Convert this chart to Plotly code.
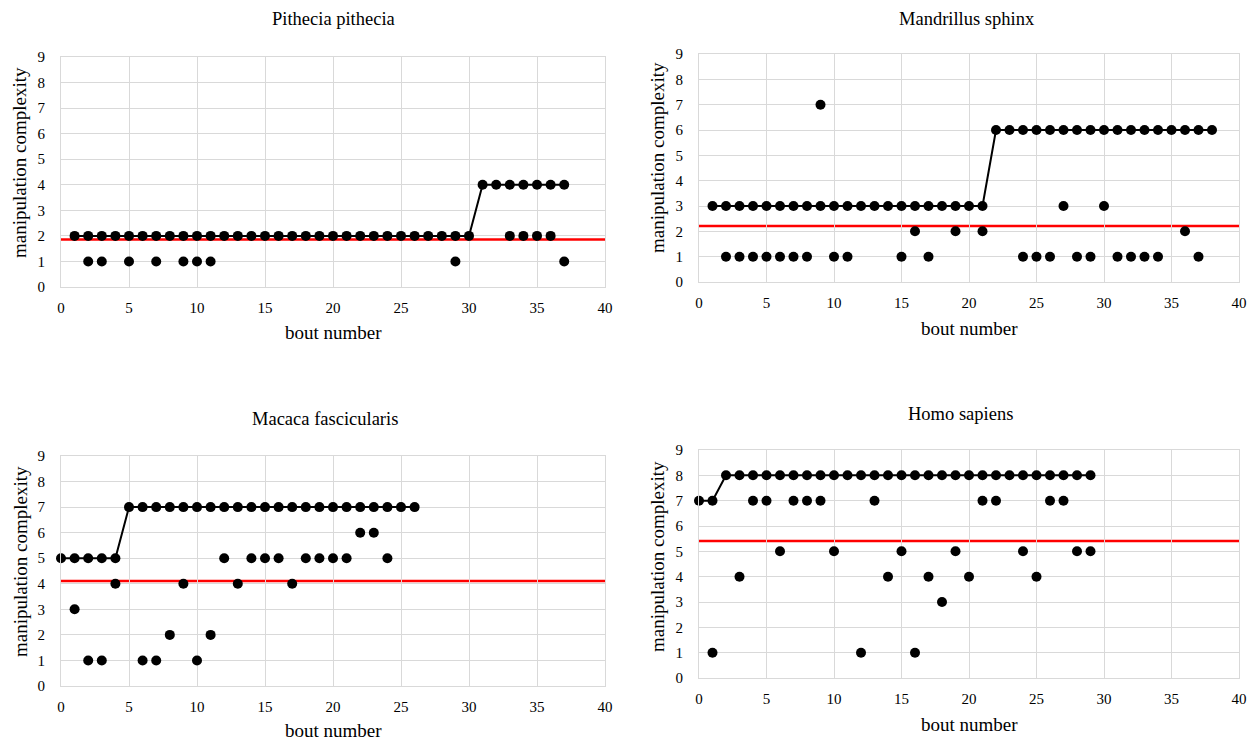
import plotly.graph_objects as go

# ---------------- data ----------------
titles = ["Pithecia pithecia", "Mandrillus sphinx", "Macaca fascicularis", "Homo sapiens"]

# Panel 1: Pithecia pithecia
p1_line_x = [1, 2, 3, 4, 5, 6, 7, 8, 9, 10, 11, 12, 13, 14, 15, 16, 17, 18, 19, 20,
             21, 22, 23, 24, 25, 26, 27, 28, 29, 30, 31, 32, 33, 34, 35, 36, 37]
p1_line_y = [2, 2, 2, 2, 2, 2, 2, 2, 2, 2, 2, 2, 2, 2, 2, 2, 2, 2, 2, 2,
             2, 2, 2, 2, 2, 2, 2, 2, 2, 2, 4, 4, 4, 4, 4, 4, 4]
p1_pts_x = [2, 3, 5, 7, 9, 10, 11, 29, 37, 33, 34, 35, 36]
p1_pts_y = [1, 1, 1, 1, 1, 1, 1, 1, 1, 2, 2, 2, 2]
p1_mean = 1.86

# Panel 2: Mandrillus sphinx
p2_line_x = [1, 2, 3, 4, 5, 6, 7, 8, 9, 10, 11, 12, 13, 14, 15, 16, 17, 18, 19, 20,
             21, 22, 23, 24, 25, 26, 27, 28, 29, 30, 31, 32, 33, 34, 35, 36, 37, 38]
p2_line_y = [3, 3, 3, 3, 3, 3, 3, 3, 3, 3, 3, 3, 3, 3, 3, 3, 3, 3, 3, 3,
             3, 6, 6, 6, 6, 6, 6, 6, 6, 6, 6, 6, 6, 6, 6, 6, 6, 6]
p2_pts_x = [9, 27, 30, 16, 19, 21, 36,
            2, 3, 4, 5, 6, 7, 8, 10, 11, 15, 17, 24, 25, 26, 28, 29, 31, 32, 33, 34, 37]
p2_pts_y = [7, 3, 3, 2, 2, 2, 2,
            1, 1, 1, 1, 1, 1, 1, 1, 1, 1, 1, 1, 1, 1, 1, 1, 1, 1, 1, 1, 1]
p2_mean = 2.21

# Panel 3: Macaca fascicularis
p3_line_x = [0, 1, 2, 3, 4, 5, 6, 7, 8, 9, 10, 11, 12, 13, 14, 15, 16, 17, 18, 19,
             20, 21, 22, 23, 24, 25, 26]
p3_line_y = [5, 5, 5, 5, 5, 7, 7, 7, 7, 7, 7, 7, 7, 7, 7, 7, 7, 7, 7, 7,
             7, 7, 7, 7, 7, 7, 7]
p3_pts_x = [22, 23, 12, 14, 15, 16, 18, 19, 20, 21, 24, 4, 9, 13, 17, 1, 8, 11, 2, 3, 6, 7, 10]
p3_pts_y = [6, 6, 5, 5, 5, 5, 5, 5, 5, 5, 5, 4, 4, 4, 4, 3, 2, 2, 1, 1, 1, 1, 1]
p3_mean = 4.11

# Panel 4: Homo sapiens
p4_line_x = [0, 1, 2, 3, 4, 5, 6, 7, 8, 9, 10, 11, 12, 13, 14, 15, 16, 17, 18, 19,
             20, 21, 22, 23, 24, 25, 26, 27, 28, 29]
p4_line_y = [7, 7, 8, 8, 8, 8, 8, 8, 8, 8, 8, 8, 8, 8, 8, 8, 8, 8, 8, 8,
             8, 8, 8, 8, 8, 8, 8, 8, 8, 8]
p4_pts_x = [4, 5, 7, 8, 9, 13, 21, 22, 26, 27, 6, 10, 15, 19, 24, 28, 29, 3, 14, 17, 20, 25, 18, 1, 12, 16]
p4_pts_y = [7, 7, 7, 7, 7, 7, 7, 7, 7, 7, 5, 5, 5, 5, 5, 5, 5, 4, 4, 4, 4, 4, 3, 1, 1, 1]
p4_mean = 5.41

x_ticks = [0, 5, 10, 15, 20, 25, 30, 35, 40]
y_ticks = [0, 1, 2, 3, 4, 5, 6, 7, 8, 9]
x_title = "bout number"
y_title = "manipulation complexity"

# ---------------- layout geometry (pixels) ----------------
W, H = 1260, 740
# plot area boxes: left, right, top, bottom (pixels)
boxes = [(61, 605, 57, 287), (699, 1239, 54, 282), (61, 605, 456, 686), (699, 1239, 450, 678)]
title_pos = [(333, 19), (967, 19), (325, 419), (960, 414)]
xtitle_pos = [(333, 333), (969, 328), (333, 730), (969, 724)]
ytitle_pos = [(20, 163), (657, 158), (20, 562), (657, 557)]

panels = [
    (p1_line_x, p1_line_y, p1_pts_x, p1_pts_y, p1_mean),
    (p2_line_x, p2_line_y, p2_pts_x, p2_pts_y, p2_mean),
    (p3_line_x, p3_line_y, p3_pts_x, p3_pts_y, p3_mean),
    (p4_line_x, p4_line_y, p4_pts_x, p4_pts_y, p4_mean),
]

FONT = "Liberation Serif"
GRID = "#d9d9d9"

fig = go.Figure()
layout = dict(
    template="none",
    width=W, height=H, autosize=False,
    margin=dict(l=0, r=0, t=0, b=0, pad=0),
    paper_bgcolor="white", plot_bgcolor="white",
    showlegend=False,
    font=dict(family=FONT, color="black"),
    shapes=[], annotations=[],
)

for i, (lx, ly, px, py, mean) in enumerate(panels):
    n = "" if i == 0 else str(i + 1)
    xa, ya = "x" + n, "y" + n
    L, R, T, B = boxes[i]
    fig.add_trace(go.Scatter(x=px, y=py, mode="markers", xaxis=xa, yaxis=ya,
                             marker=dict(color="black", size=10, line=dict(width=0)),
                             cliponaxis=False))
    fig.add_trace(go.Scatter(x=lx, y=ly, mode="lines+markers", xaxis=xa, yaxis=ya,
                             line=dict(color="black", width=2),
                             marker=dict(color="black", size=10, line=dict(width=0)),
                             cliponaxis=False))
    layout["xaxis" + n] = dict(
        domain=[L / W, R / W], anchor=ya, range=[0, 40], tickvals=x_ticks,
        showgrid=True, gridcolor=GRID, gridwidth=1, zeroline=False,
        showline=True, linecolor=GRID, linewidth=1, mirror=True,
        ticks="", ticklabelstandoff=7, automargin=False,
        tickfont=dict(family=FONT, size=15, color="black"), fixedrange=True,
    )
    layout["yaxis" + n] = dict(
        domain=[1 - B / H, 1 - T / H], anchor=xa, range=[0, 9], tickvals=y_ticks,
        showgrid=True, gridcolor=GRID, gridwidth=1, zeroline=False,
        showline=True, linecolor=GRID, linewidth=1, mirror=True,
        ticks="", ticklabelstandoff=12, automargin=False,
        tickfont=dict(family=FONT, size=15, color="black"), fixedrange=True,
    )
    layout["shapes"].append(dict(
        type="line", xref=xa + " domain", yref=ya, x0=0, x1=1, y0=mean, y1=mean,
        line=dict(color="#ff0000", width=2.5), layer="below",
    ))
    tx, ty = title_pos[i]
    layout["annotations"].append(dict(
        text=titles[i], x=tx / W, y=1 - ty / H, xref="paper", yref="paper",
        xanchor="center", yanchor="middle", showarrow=False,
        font=dict(family=FONT, size=18.5, color="black"),
    ))
    bx, by = xtitle_pos[i]
    layout["annotations"].append(dict(
        text=x_title, x=bx / W, y=1 - by / H, xref="paper", yref="paper",
        xanchor="center", yanchor="middle", showarrow=False,
        font=dict(family=FONT, size=19, color="black"),
    ))
    vx, vy = ytitle_pos[i]
    layout["annotations"].append(dict(
        text=y_title, x=vx / W, y=1 - vy / H, xref="paper", yref="paper",
        xanchor="center", yanchor="middle", showarrow=False, textangle=-90,
        font=dict(family=FONT, size=19, color="black"),
    ))

fig.update_layout(**layout)
fig.write_html("out.html")
